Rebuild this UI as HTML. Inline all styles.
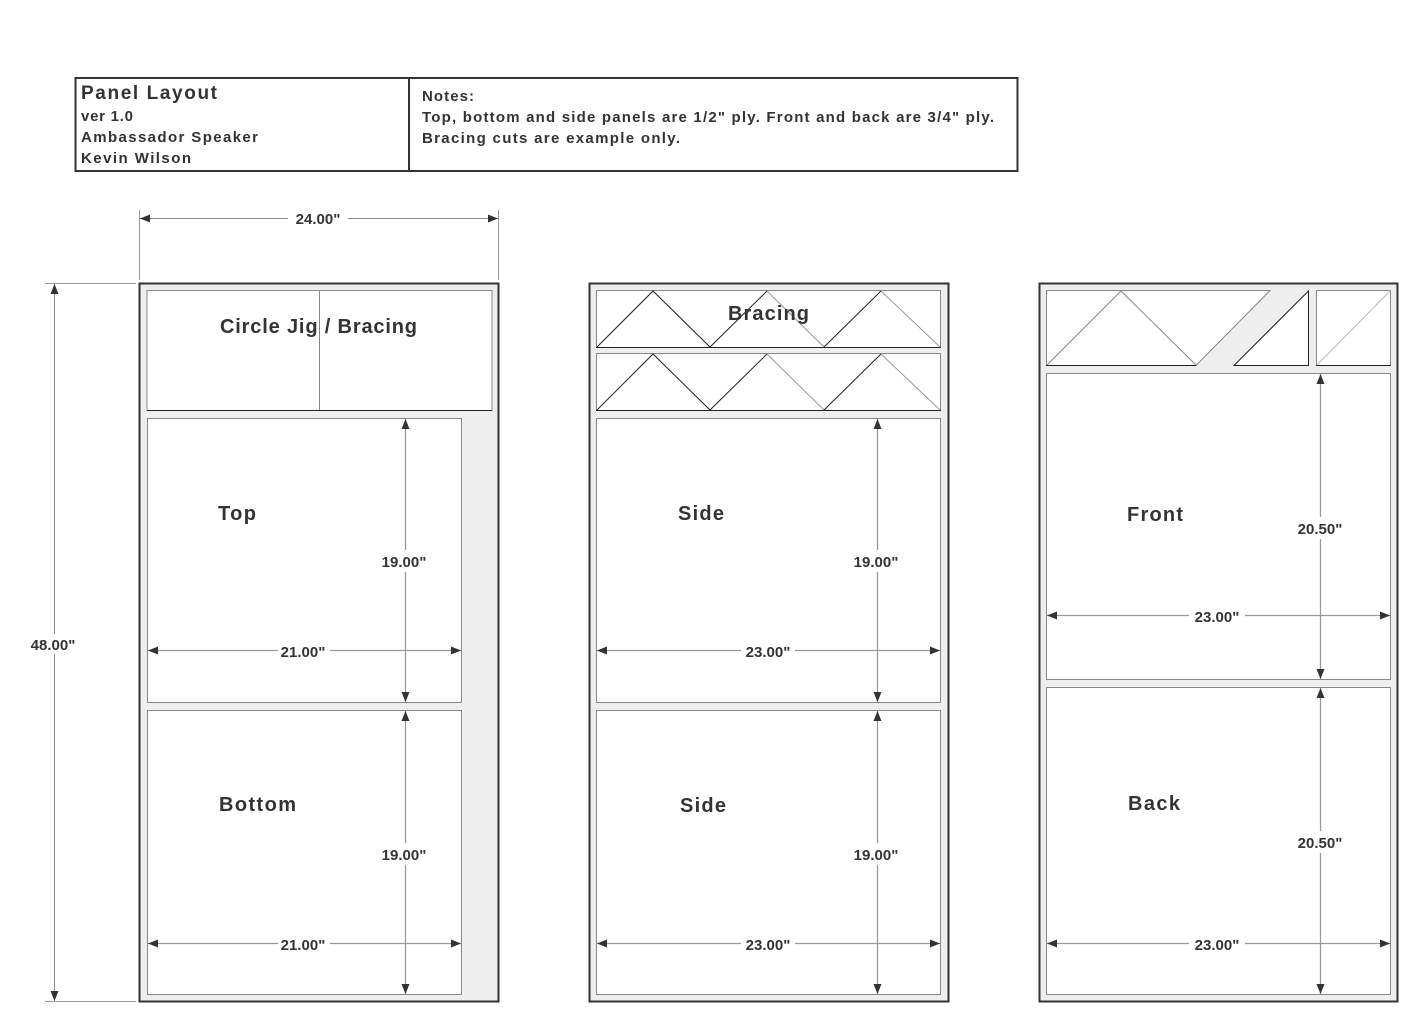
<!DOCTYPE html>
<html><head><meta charset="utf-8"><style>
body{margin:0;background:#fff;}
svg text{font-family:"Liberation Sans",sans-serif;font-weight:bold;fill:#333;}
</style></head><body>
<svg width="1425" height="1029" viewBox="0 0 1425 1029" xmlns="http://www.w3.org/2000/svg">
<defs>
<marker id="a" viewBox="0 0 10 8" refX="10" refY="4" markerWidth="10" markerHeight="8" markerUnits="userSpaceOnUse" orient="auto-start-reverse"><path d="M0,0 L10,4 L0,8 z" fill="#333"/></marker>
</defs>
<!-- header -->
<rect x="75.5" y="78" width="942" height="93" fill="#fff" stroke="#333" stroke-width="2"/>
<line x1="409" y1="78" x2="409" y2="171" stroke="#333" stroke-width="2"/>
<text x="81" y="99" font-size="19" textLength="136">Panel Layout</text>
<text x="81" y="121" font-size="15" textLength="52">ver 1.0</text>
<text x="81" y="142" font-size="15" textLength="177">Ambassador Speaker</text>
<text x="81" y="163" font-size="15" textLength="110">Kevin Wilson</text>
<text x="422" y="101" font-size="15" textLength="52">Notes:</text>
<text x="422" y="122" font-size="15" textLength="572">Top, bottom and side panels are 1/2" ply. Front and back are 3/4" ply.</text>
<text x="422" y="143" font-size="15" textLength="258">Bracing cuts are example only.</text>

<g stroke="#999" stroke-width="1" fill="none">
<line x1="139.5" y1="210" x2="139.5" y2="280"/>
<line x1="498.5" y1="210" x2="498.5" y2="280"/>
<line x1="45" y1="283.5" x2="136" y2="283.5"/>
<line x1="45" y1="1001.5" x2="136" y2="1001.5"/>
</g>
<g stroke="#888" stroke-width="1">
<line x1="140" y1="218.5" x2="498" y2="218.5" marker-start="url(#a)" marker-end="url(#a)"/>
<line x1="54.5" y1="284" x2="54.5" y2="1001" marker-start="url(#a)" marker-end="url(#a)"/>
</g>
<rect x="288" y="208" width="60" height="20" fill="#fff"/>
<text x="318" y="224" font-size="15" text-anchor="middle">24.00"</text>
<rect x="22" y="634" width="62" height="20" fill="#fff"/>
<text x="53" y="650" font-size="15" text-anchor="middle">48.00"</text>

<!-- panel 1 -->
<rect x="139.5" y="283.5" width="359" height="718" fill="#eee" stroke="#333" stroke-width="2"/>
<rect x="147" y="290.5" width="345" height="120" fill="#fff" stroke="#888"/>
<line x1="319.5" y1="291" x2="319.5" y2="410" stroke="#888"/>
<line x1="147" y1="410.5" x2="492" y2="410.5" stroke="#222"/>
<text x="220" y="333" font-size="20" textLength="197">Circle Jig / Bracing</text>
<rect x="147.5" y="418.5" width="314" height="284" fill="#fff" stroke="#888"/>
<rect x="147.5" y="710.5" width="314" height="284" fill="#fff" stroke="#888"/>
<text x="218" y="520" font-size="20" textLength="38">Top</text>
<text x="219" y="811" font-size="20" textLength="77">Bottom</text>

<!-- panel 2 -->
<rect x="589.5" y="283.5" width="359" height="718" fill="#eee" stroke="#333" stroke-width="2"/>
<rect x="596.5" y="290.5" width="344" height="57" fill="#fff" stroke="#888"/>
<rect x="596.5" y="353.5" width="344" height="57" fill="#fff" stroke="#888"/>
<line x1="596" y1="347.5" x2="941" y2="347.5" stroke="#222"/>
<line x1="596" y1="410.5" x2="941" y2="410.5" stroke="#222"/>
<polyline points="597,347 653,291 710,347 767,291" fill="none" stroke="#222"/>
<polyline points="767,291 824,347" fill="none" stroke="#999"/>
<polyline points="824,347 881,291" fill="none" stroke="#222"/>
<polyline points="881,291 940,347" fill="none" stroke="#999"/>
<polyline points="597,410 653,354 710,410 767,354" fill="none" stroke="#222"/>
<polyline points="767,354 824,410" fill="none" stroke="#999"/>
<polyline points="824,410 881,354" fill="none" stroke="#222"/>
<polyline points="881,354 940,410" fill="none" stroke="#999"/>
<text x="728" y="320" font-size="20" textLength="81">Bracing</text>
<rect x="596.5" y="418.5" width="344" height="284" fill="#fff" stroke="#888"/>
<rect x="596.5" y="710.5" width="344" height="284" fill="#fff" stroke="#888"/>
<text x="678" y="520" font-size="20" textLength="46">Side</text>
<text x="680" y="812" font-size="20" textLength="46">Side</text>

<!-- panel 3 -->
<rect x="1039.5" y="283.5" width="358" height="718" fill="#eee" stroke="#333" stroke-width="2"/>
<polygon points="1046.5,290.5 1270,290.5 1196,365.5 1046.5,365.5" fill="#fff" stroke="#888"/>
<line x1="1046" y1="365.5" x2="1196" y2="365.5" stroke="#222"/>
<polyline points="1047,365 1121,291 1196,365" fill="none" stroke="#888"/>
<polygon points="1308.5,291 1308.5,365.5 1234,365.5" fill="#fff" stroke="#222"/>
<rect x="1316.5" y="290.5" width="74" height="75" fill="#fff" stroke="#888"/>
<line x1="1316" y1="365.5" x2="1391" y2="365.5" stroke="#222"/>
<line x1="1317" y1="365" x2="1390" y2="291" stroke="#bbb"/>
<rect x="1046.5" y="373.5" width="344" height="306" fill="#fff" stroke="#888"/>
<rect x="1046.5" y="687.5" width="344" height="307" fill="#fff" stroke="#888"/>
<text x="1127" y="521" font-size="20" textLength="56">Front</text>
<text x="1128" y="810" font-size="20" textLength="52">Back</text>

<!-- dims -->
<g stroke="#999" stroke-width="1.3">
<line x1="405.5" y1="419" x2="405.5" y2="702" marker-start="url(#a)" marker-end="url(#a)"/>
<line x1="148" y1="650.5" x2="461" y2="650.5" marker-start="url(#a)" marker-end="url(#a)"/>
<line x1="405.5" y1="711" x2="405.5" y2="994" marker-start="url(#a)" marker-end="url(#a)"/>
<line x1="148" y1="943.5" x2="461" y2="943.5" marker-start="url(#a)" marker-end="url(#a)"/>
<line x1="877.5" y1="419" x2="877.5" y2="702" marker-start="url(#a)" marker-end="url(#a)"/>
<line x1="597" y1="650.5" x2="940" y2="650.5" marker-start="url(#a)" marker-end="url(#a)"/>
<line x1="877.5" y1="711" x2="877.5" y2="994" marker-start="url(#a)" marker-end="url(#a)"/>
<line x1="597" y1="943.5" x2="940" y2="943.5" marker-start="url(#a)" marker-end="url(#a)"/>
<line x1="1320.5" y1="374" x2="1320.5" y2="679" marker-start="url(#a)" marker-end="url(#a)"/>
<line x1="1047" y1="615.5" x2="1390" y2="615.5" marker-start="url(#a)" marker-end="url(#a)"/>
<line x1="1320.5" y1="688" x2="1320.5" y2="994" marker-start="url(#a)" marker-end="url(#a)"/>
<line x1="1047" y1="943.5" x2="1390" y2="943.5" marker-start="url(#a)" marker-end="url(#a)"/>
</g>
<g fill="#fff">
<rect x="378" y="550" width="54" height="22"/><rect x="278" y="640" width="52" height="22"/>
<rect x="378" y="843" width="54" height="22"/><rect x="278" y="933" width="52" height="22"/>
<rect x="850" y="550" width="54" height="22"/><rect x="741" y="640" width="54" height="22"/>
<rect x="850" y="843" width="54" height="22"/><rect x="741" y="933" width="54" height="22"/>
<rect x="1292" y="517" width="56" height="22"/><rect x="1189" y="605" width="56" height="22"/>
<rect x="1292" y="831" width="56" height="22"/><rect x="1189" y="933" width="56" height="22"/>
</g>
<g font-size="15" text-anchor="middle">
<text x="404" y="567">19.00"</text><text x="303" y="657">21.00"</text>
<text x="404" y="860">19.00"</text><text x="303" y="950">21.00"</text>
<text x="876" y="567">19.00"</text><text x="768" y="657">23.00"</text>
<text x="876" y="860">19.00"</text><text x="768" y="950">23.00"</text>
<text x="1320" y="534">20.50"</text><text x="1217" y="622">23.00"</text>
<text x="1320" y="848">20.50"</text><text x="1217" y="950">23.00"</text>
</g>
</svg>
</body></html>
